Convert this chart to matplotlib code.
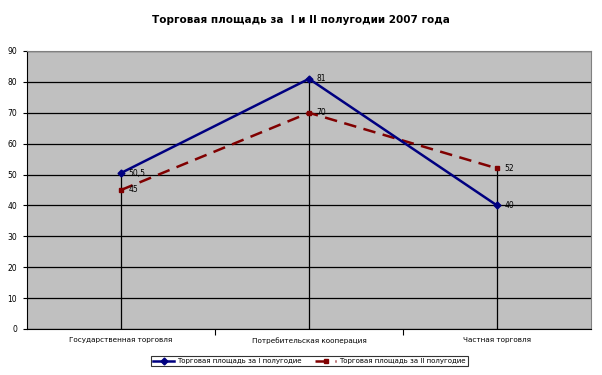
import matplotlib.pyplot as plt

categories = ['Государственная торговля', 'Потребительская кооперация', 'Частная торговля']
half1 = [50.5, 81, 40]
half2 = [45, 70, 52]
half1_labels = ['50,5', '81', '40']
half2_labels = ['45', '70', '52']
yticks = [0, 10, 20, 30, 40, 50, 60, 70, 80, 90]

fig = plt.figure(figsize=(6.02, 3.75), dpi=100)
ax = fig.add_axes([27 / 602, 46 / 375, 564 / 602, 278 / 375])
ax.set_facecolor('#C0C0C0')

x = list(range(len(categories)))

# drop lines from the highest point down to the axis
for i in x:
    ax.plot([i, i], [0, max(half1[i], half2[i])], color='black', lw=0.9, zorder=2)

ax.plot(x, half1, color='#000080', lw=1.8, marker='D', ms=3.5, zorder=4,
        label='Торговая площадь за I полугодие')
ax.plot(x, half2, color='#800000', lw=1.8, ls=(0, (5, 3)), marker='s', ms=3.5, zorder=3,
        label='Торговая площадь за II полугодие')

for i in x:
    ax.text(i + 0.04, half1[i], half1_labels[i], fontsize=5.5, va='center', ha='left', zorder=5)
    ax.text(i + 0.04, half2[i], half2_labels[i], fontsize=5.5, va='center', ha='left', zorder=5)

ax.set_xlim(-0.5, 2.5)
ax.set_ylim(0, 90)
ax.set_yticks(yticks)
ax.tick_params(axis='y', labelsize=5.5, length=3, direction='out', pad=4)
ax.yaxis.grid(True, color='black', lw=0.9)
ax.set_axisbelow(True)

ax.set_xticks([0.5, 1.5])
ax.set_xticklabels([])
ax.set_xticks(x, minor=True)
ax.set_xticklabels(categories, minor=True, fontsize=5.2)
ax.tick_params(axis='x', which='major', length=4, direction='out')
ax.tick_params(axis='x', which='minor', length=0, pad=6)

for s in ax.spines.values():
    s.set_color('#808080')
    s.set_linewidth(0.8)
ax.spines['bottom'].set_color('black')
ax.spines['left'].set_color('black')

fig.suptitle('Торговая площадь за  I и II полугодии 2007 года', fontsize=7.5,
             fontweight='bold', y=0.96)

leg = fig.legend(loc='center', bbox_to_anchor=(309.5 / 602, 1 - 361 / 375), ncol=2,
                 fontsize=5, frameon=True, fancybox=False, edgecolor='black',
                 handlelength=3, handletextpad=0.4, columnspacing=2, borderpad=0.3,
                 borderaxespad=0)
leg.get_frame().set_linewidth(0.8)

fig.savefig('out.png', dpi=100)
